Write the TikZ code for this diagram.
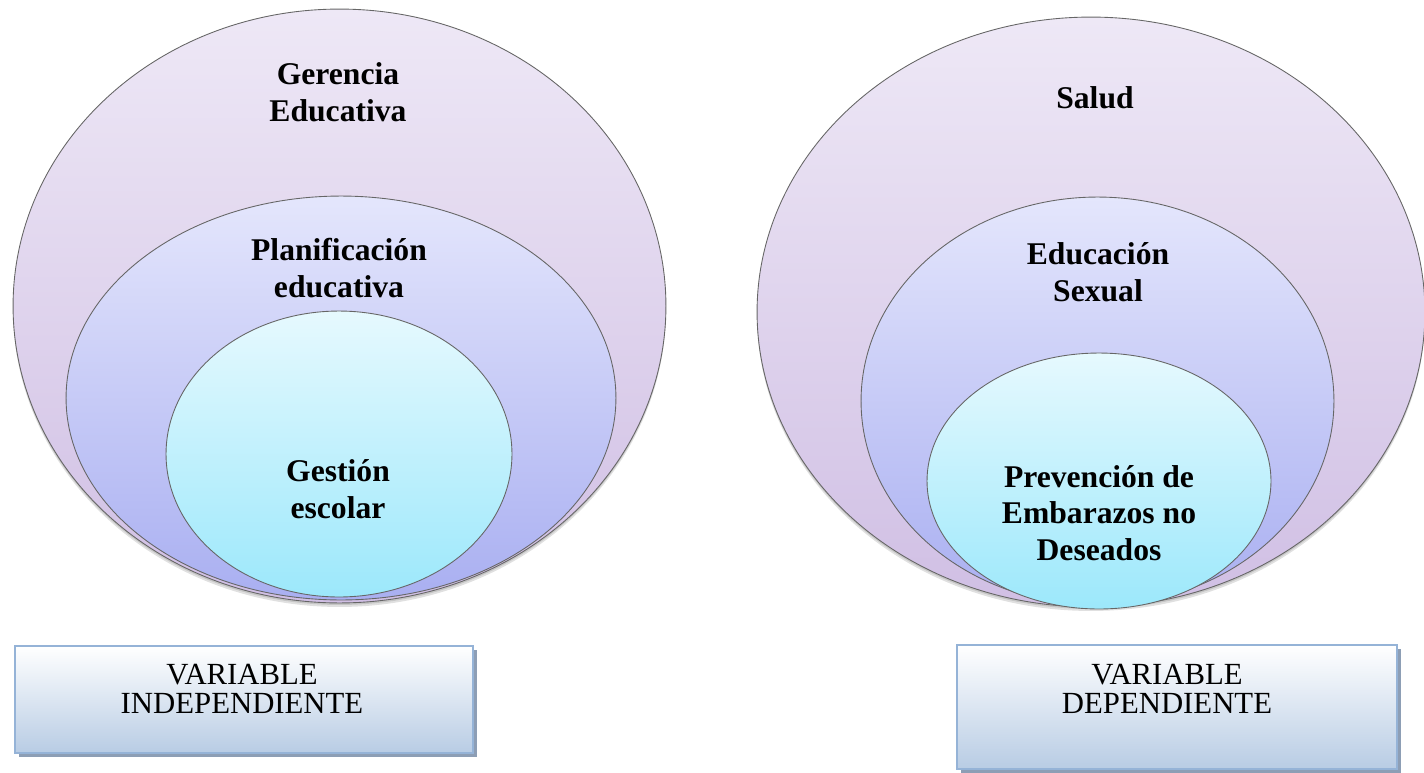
\documentclass[tikz,border=0pt]{standalone}
\usepackage{fontspec}
\setmainfont{Liberation Serif}
\definecolor{lilatop}{HTML}{EEE8F6}
\definecolor{lilabot}{HTML}{D0BFE4}
\definecolor{azultop}{HTML}{E4E6FC}
\definecolor{azulbot}{HTML}{A9AFF1}
\definecolor{cielotop}{HTML}{E6F9FE}
\definecolor{cielobot}{HTML}{9CE8FB}
\definecolor{boxbot}{HTML}{B8CCE4}
\definecolor{boxline}{HTML}{95B3D7}
\definecolor{boxshadow}{HTML}{8D9EB5}

\begin{document}
\begin{tikzpicture}[x=0.02cm, y=-0.02cm,
  ring/.style={draw=black!60, line width=0.5pt},
  ringtext/.style={font=\fontsize{18}{20.8}\selectfont\bfseries, align=center, inner sep=0pt},
  varbox/.style={draw=boxline, line width=0.05cm, top color=white, bottom color=boxbot},
  vartext/.style={font=\fontsize{17.5}{16.5}\selectfont, align=center, inner sep=0pt}]
\useasboundingbox (0,0) rectangle (1424,772);

% variable independiente
\fill[black, opacity=0.12] (339.5,310) ellipse [x radius=6.53cm, y radius=5.94cm];
\fill[black, opacity=0.12] (339.5,308) ellipse [x radius=6.53cm, y radius=5.94cm];
\draw[ring, top color=lilatop, bottom color=lilabot] (339.5,306) ellipse [x radius=6.53cm, y radius=5.94cm];
\draw[ring, top color=azultop, bottom color=azulbot] (341,398) ellipse [x radius=5.5cm, y radius=4.04cm];
\draw[ring, top color=cielotop, bottom color=cielobot] (339,454) ellipse [x radius=3.46cm, y radius=2.86cm];
\node[ringtext] (gerencia) at (338,92) {Gerencia\\Educativa};
\node[ringtext] (planificacion) at (339,268) {Planificación\\educativa};
\node[ringtext] (gestion) at (338,489) {Gestión\\escolar};

% variable dependiente
\fill[black, opacity=0.12] (1091,316) ellipse [x radius=6.68cm, y radius=5.9cm];
\fill[black, opacity=0.12] (1091,314) ellipse [x radius=6.68cm, y radius=5.9cm];
\draw[ring, top color=lilatop, bottom color=lilabot] (1091,312) ellipse [x radius=6.68cm, y radius=5.9cm];
\draw[ring, top color=azultop, bottom color=azulbot] (1097.5,401) ellipse [x radius=4.73cm, y radius=4.08cm];
\draw[ring, top color=cielotop, bottom color=cielobot] (1099,481) ellipse [x radius=3.44cm, y radius=2.56cm];
\node[ringtext] (salud) at (1095,98) {Salud};
\node[ringtext] (educacion) at (1098,272) {Educación\\Sexual};
\node[ringtext] (prevencion) at (1099,513) {Prevención de\\Embarazos no\\Deseados};

% cuadros
\fill[boxshadow] (19,650) rectangle (477,757);
\draw[varbox] (15,646) rectangle (473,753);
\node[vartext] (independiente) at (242,689) {VARIABLE\\INDEPENDIENTE};

\fill[boxshadow] (961,649) rectangle (1401,773);
\draw[varbox] (957,645) rectangle (1397,769);
\node[vartext] (dependiente) at (1167,689) {VARIABLE\\DEPENDIENTE};
\end{tikzpicture}
\end{document}
